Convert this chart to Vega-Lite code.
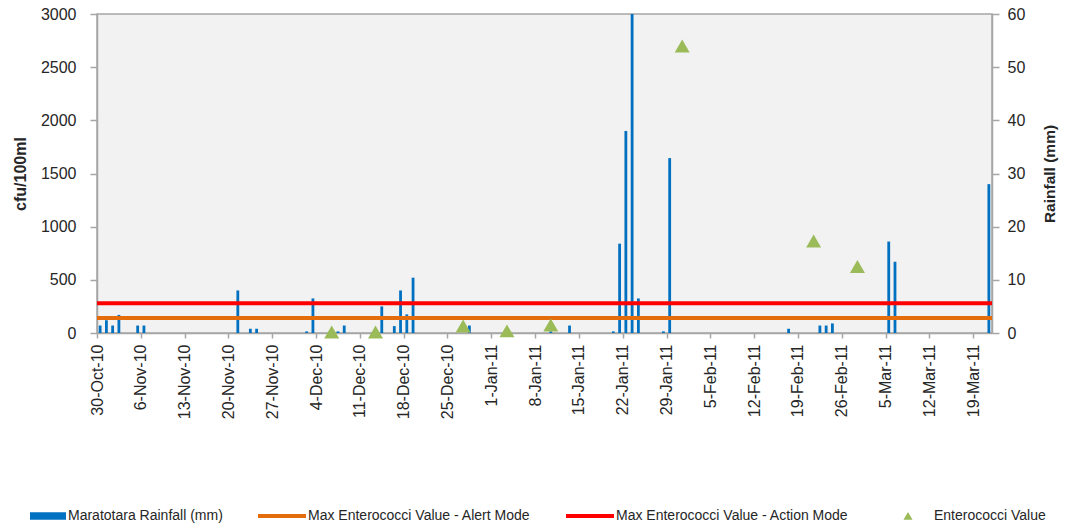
{
  "$schema": "https://vega.github.io/schema/vega-lite/v6.json",
  "width": 895,
  "height": 319,
  "autosize": {"type": "none"},
  "padding": {"left": 97, "top": 14, "right": 86, "bottom": 196},
  "background": "white",
  "config": {
    "font": "Liberation Sans",
    "view": {"fill": "#F2F2F2", "stroke": "#A6A6A6", "strokeWidth": 1.5},
    "axis": {
      "domainColor": "#A6A6A6", "domainWidth": 1.5,
      "tickColor": "#A6A6A6", "tickWidth": 1.5,
      "labelColor": "#262626", "titleColor": "#262626",
      "grid": false, "labelFont": "Liberation Sans", "titleFont": "Liberation Sans"
    },
    "legend": {"padding": 0}
  },
  "datasets": {
    "rain": [
      {"date": "2010-10-30", "mm": 1.4},
      {"date": "2010-10-31", "mm": 2.4},
      {"date": "2010-11-01", "mm": 1.4},
      {"date": "2010-11-02", "mm": 3.4},
      {"date": "2010-11-05", "mm": 1.4},
      {"date": "2010-11-06", "mm": 1.4},
      {"date": "2010-11-21", "mm": 8.0},
      {"date": "2010-11-23", "mm": 0.8},
      {"date": "2010-11-24", "mm": 0.8},
      {"date": "2010-12-02", "mm": 0.3},
      {"date": "2010-12-03", "mm": 6.5},
      {"date": "2010-12-07", "mm": 0.3},
      {"date": "2010-12-08", "mm": 1.4},
      {"date": "2010-12-14", "mm": 5.0},
      {"date": "2010-12-16", "mm": 1.3},
      {"date": "2010-12-17", "mm": 8.0},
      {"date": "2010-12-18", "mm": 3.5},
      {"date": "2010-12-19", "mm": 10.4},
      {"date": "2010-12-28", "mm": 1.4},
      {"date": "2011-01-10", "mm": 0.3},
      {"date": "2011-01-13", "mm": 1.4},
      {"date": "2011-01-20", "mm": 0.3},
      {"date": "2011-01-21", "mm": 16.8},
      {"date": "2011-01-22", "mm": 38.0},
      {"date": "2011-01-23", "mm": 60.0},
      {"date": "2011-01-24", "mm": 6.5},
      {"date": "2011-01-28", "mm": 0.3},
      {"date": "2011-01-29", "mm": 32.9},
      {"date": "2011-02-17", "mm": 0.8},
      {"date": "2011-02-22", "mm": 1.4},
      {"date": "2011-02-23", "mm": 1.4},
      {"date": "2011-02-24", "mm": 1.8},
      {"date": "2011-03-05", "mm": 17.2},
      {"date": "2011-03-06", "mm": 13.4},
      {"date": "2011-03-21", "mm": 28.0}
    ],
    "ent": [
      {"date": "2010-12-06", "cfu": 10, "series": "Enterococci Value"},
      {"date": "2010-12-13", "cfu": 10, "series": "Enterococci Value"},
      {"date": "2010-12-27", "cfu": 65, "series": "Enterococci Value"},
      {"date": "2011-01-03", "cfu": 20, "series": "Enterococci Value"},
      {"date": "2011-01-10", "cfu": 75, "series": "Enterococci Value"},
      {"date": "2011-01-31", "cfu": 2700, "series": "Enterococci Value"},
      {"date": "2011-02-21", "cfu": 865, "series": "Enterococci Value"},
      {"date": "2011-02-28", "cfu": 625, "series": "Enterococci Value"}
    ],
    "limits": [
      {"series": "Max Enterococci Value - Alert Mode", "cfu": 140},
      {"series": "Max Enterococci Value - Action Mode", "cfu": 280}
    ]
  },
  "encoding": {
    "x": {
      "field": "date", "type": "temporal", "timeUnit": "utcyearmonthdate", "bandPosition": 0.5,
      "scale": {"domain": [{"year": 2010, "month": 10, "date": 30, "utc": true}, {"year": 2011, "month": 3, "date": 22, "utc": true}]},
      "axis": {
        "title": null, "format": "%-d-%b-%y", "labelAngle": 270, "labelFontSize": 16, "tickSize": 5, "labelPadding": 6,
        "values": [
          {"year": 2010, "month": 10, "date": 30, "utc": true},
          {"year": 2010, "month": 11, "date": 6, "utc": true},
          {"year": 2010, "month": 11, "date": 13, "utc": true},
          {"year": 2010, "month": 11, "date": 20, "utc": true},
          {"year": 2010, "month": 11, "date": 27, "utc": true},
          {"year": 2010, "month": 12, "date": 4, "utc": true},
          {"year": 2010, "month": 12, "date": 11, "utc": true},
          {"year": 2010, "month": 12, "date": 18, "utc": true},
          {"year": 2010, "month": 12, "date": 25, "utc": true},
          {"year": 2011, "month": 1, "date": 1, "utc": true},
          {"year": 2011, "month": 1, "date": 8, "utc": true},
          {"year": 2011, "month": 1, "date": 15, "utc": true},
          {"year": 2011, "month": 1, "date": 22, "utc": true},
          {"year": 2011, "month": 1, "date": 29, "utc": true},
          {"year": 2011, "month": 2, "date": 5, "utc": true},
          {"year": 2011, "month": 2, "date": 12, "utc": true},
          {"year": 2011, "month": 2, "date": 19, "utc": true},
          {"year": 2011, "month": 2, "date": 26, "utc": true},
          {"year": 2011, "month": 3, "date": 5, "utc": true},
          {"year": 2011, "month": 3, "date": 12, "utc": true},
          {"year": 2011, "month": 3, "date": 19, "utc": true}
        ]
      }
    }
  },
  "layer": [
    {
      "layer": [
        {
          "data": {"name": "rain"},
          "mark": {"type": "rule", "color": "#0070C0", "strokeWidth": 2.8},
          "encoding": {
            "y": {
              "field": "mm", "type": "quantitative",
              "scale": {"domain": [0, 60], "nice": false},
              "axis": {
                "orient": "right", "values": [0, 10, 20, 30, 40, 50, 60], "tickSize": 7, "format": "d",
                "labelFontSize": 16, "labelPadding": 8,
                "title": "Rainfall (mm)", "titleFontSize": 15.5, "titleFontWeight": "bold", "titleAngle": 270,
                "titleBaseline": "top", "titlePadding": 18
              }
            },
            "y2": {"datum": 0}
          }
        }
      ]
    },
    {
      "layer": [
        {
          "data": {"name": "limits"},
          "transform": [{"filter": "datum.series === 'Max Enterococci Value - Alert Mode'"}],
          "mark": {"type": "rule", "color": "#E46C0A", "strokeWidth": 4},
          "encoding": {
            "x": null,
            "y": {
              "field": "cfu", "type": "quantitative",
              "scale": {"domain": [0, 3000], "nice": false},
              "axis": {
                "orient": "left", "values": [0, 500, 1000, 1500, 2000, 2500, 3000], "tickSize": 7, "format": "d",
                "labelFontSize": 16, "labelPadding": 14,
                "title": "cfu/100ml", "titleFontSize": 16, "titleFontWeight": "bold", "titlePadding": 12
              }
            }
          }
        },
        {
          "data": {"name": "limits"},
          "transform": [{"filter": "datum.series === 'Max Enterococci Value - Action Mode'"}],
          "mark": {"type": "rule", "color": "#FF0000", "strokeWidth": 4},
          "encoding": {
            "x": null,
            "y": {"field": "cfu", "type": "quantitative"}
          }
        },
        {
          "data": {"name": "ent"},
          "mark": {"type": "point", "shape": "triangle-up", "filled": true, "color": "#9BBB59", "size": 225, "opacity": 1},
          "encoding": {
            "y": {"field": "cfu", "type": "quantitative"}
          }
        },
        {
          "data": {"name": "ent"},
          "transform": [{"filter": "false"}],
          "mark": {"type": "point", "filled": true, "opacity": 1},
          "encoding": {
            "y": {"field": "cfu", "type": "quantitative"},
            "color": {
              "field": "series", "type": "nominal",
              "scale": {
                "domain": ["Maratotara Rainfall (mm)", "Max Enterococci Value - Alert Mode", "Max Enterococci Value - Action Mode", "Enterococci Value"],
                "range": ["#0070C0", "#E46C0A", "#FF0000", "#9BBB59"]
              },
              "legend": {
                "title": null, "orient": "none", "legendX": -79, "legendY": 478,
                "direction": "horizontal", "columns": 4, "gridAlign": "none", "columnPadding": 35,
                "symbolSize": 2304, "symbolStrokeWidth": 0, "symbolOpacity": 1,
                "labelFontSize": 14, "labelColor": "#262626", "labelOffset": 2, "labelLimit": 400
              }
            },
            "shape": {
              "field": "series", "type": "nominal",
              "scale": {
                "domain": ["Maratotara Rainfall (mm)", "Max Enterococci Value - Alert Mode", "Max Enterococci Value - Action Mode", "Enterococci Value"],
                "range": ["M-0.5,-0.16H1V0.16H-0.5Z", "M-1,-0.08H1V0.08H-1Z", "M-1,-0.08H1V0.08H-1Z", "M0,-0.17L0.19,0.16L-0.19,0.16Z"]
              },
              "legend": {
                "title": null, "orient": "none", "legendX": -79, "legendY": 478,
                "direction": "horizontal", "columns": 4, "gridAlign": "none", "columnPadding": 35,
                "symbolSize": 2304, "symbolStrokeWidth": 0, "symbolOpacity": 1,
                "labelFontSize": 14, "labelColor": "#262626", "labelOffset": 2, "labelLimit": 400
              }
            }
          }
        }
      ]
    }
  ],
  "resolve": {"scale": {"y": "independent"}}
}
